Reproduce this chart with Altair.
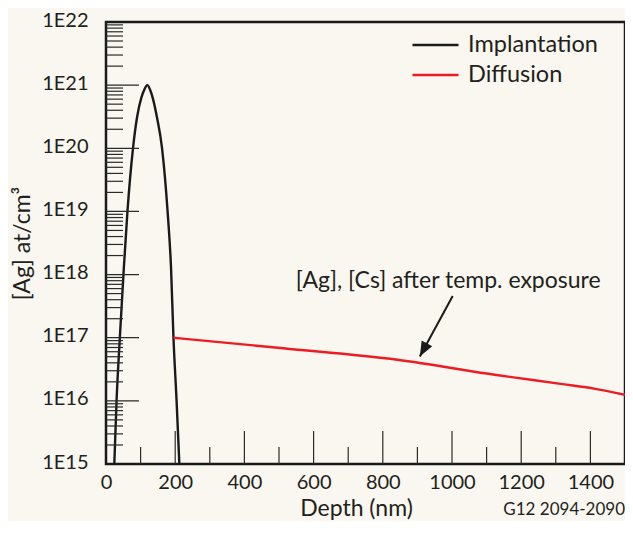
import altair as alt
import pandas as pd

# ---- data ----
impl_depth = [24, 30.5, 40, 51.5, 62, 78, 90, 102, 110, 119.5, 128, 135, 147, 162, 178, 188, 195, 204, 212]
impl_conc = [1.0e15, 1.0e16, 1.0e17, 1.26e18, 1.0e19, 1.0e20, 3.16e20, 6.3e20, 8.3e20, 1.0e21,
             8.3e20, 6.3e20, 3.16e20, 1.0e20, 1.0e19, 1.26e18, 1.0e17, 1.0e16, 1.0e15]
diff_depth = [195, 512, 842, 1128, 1319, 1414, 1500]
diff_conc = [1.0e17, 6.8e16, 4.47e16, 2.57e16, 1.84e16, 1.55e16, 1.25e16]

series_names = ["Implantation", "Diffusion"]
series_colors = ["#1a1a1a", "#ed1c24"]

y_label_values = [1e15, 1e16, 1e17, 1e18, 1e19, 1e20, 1e21, 1e22]
x_label_values = [0, 200, 400, 600, 800, 1000, 1200, 1400]
x_major_ticks = [200, 400, 600, 800, 1000, 1200, 1400]
x_minor_ticks = [100, 300, 500, 700, 900, 1100, 1300]
y_major_ticks = [1e16, 1e17, 1e18, 1e19, 1e20, 1e21]
y_minor_ticks = [k * 10.0 ** n for n in range(15, 22) for k in range(2, 10)]

ann_depth = [989]
ann_conc = [6.04e17]
ann_text = ["[Ag], [Cs] after temp. exposure"]
arrow_start_depth = [1002]
arrow_start_conc = [4.57e17]
arrow_tip_depth = [907]
arrow_tip_conc = [5.04e16]

FONT = "Lato"
TXT = "#231f20"
W, H = 519, 442

df_lines = pd.DataFrame({
    "depth": impl_depth + diff_depth,
    "conc": impl_conc + diff_conc,
    "series": ["Implantation"] * len(impl_depth) + ["Diffusion"] * len(diff_depth),
})

xscale = alt.Scale(domain=[0, 1500], nice=False, zero=False)
yscale = alt.Scale(type="log", domain=[1e15, 1e22], nice=False)

x_axis = alt.Axis(values=x_label_values, format="d", ticks=False, tickSize=0, domain=False, grid=False,
                  labelPadding=8, labelFontSize=20, labelFont=FONT, labelColor=TXT,
                  labelFlush=False, labelOverlap=False,
                  title="Depth (nm)", titleFont=FONT, titleFontSize=23, titleFontWeight="normal",
                  titleColor=TXT, titleX=250, titleY=51, titleAlign="center",
                  titleBaseline="alphabetic")
y_axis = alt.Axis(values=y_label_values, ticks=False, tickSize=0, domain=False, grid=False,
                  labelExpr="'1E' + round(log(datum.value)/LN10)",
                  labelPadding=18, labelFontSize=20, labelFont=FONT, labelColor=TXT,
                  labelFlush=False, labelOverlap=False, labelOffset=-2,
                  title="[Ag] at/cm³", titleFont=FONT, titleFontSize=23, titleFontWeight="normal",
                  titleColor=TXT, titleX=-84, titleY=H / 2, titleAngle=-90, titleAlign="center",
                  titleBaseline="middle")


def X(field):
    return alt.X(field, type="quantitative", scale=xscale, axis=x_axis)


def Y(field):
    return alt.Y(field, type="quantitative", scale=yscale, axis=y_axis)


lines = alt.Chart(df_lines).mark_line(strokeWidth=2.4, interpolate="monotone").encode(
    x=X("depth"),
    y=Y("conc"),
    color=alt.Color("series:N", scale=alt.Scale(domain=series_names, range=series_colors),
                    legend=alt.Legend(title=None, orient="none", legendX=305, legendY=8,
                                      symbolType="stroke", symbolSize=2116, symbolStrokeWidth=2.5,
                                      labelFontSize=23.5, labelFont=FONT, labelColor=TXT,
                                      clipHeight=30, rowPadding=0, labelOffset=8, padding=0)),
)

tick_style = dict(color="#2a2a2a", strokeWidth=1.2)

y_major = alt.Chart(pd.DataFrame({"conc": y_major_ticks})).mark_rule(**tick_style).encode(
    y=Y("conc"), x=alt.value(0), x2=alt.value(33))
y_minor = alt.Chart(pd.DataFrame({"conc": y_minor_ticks})).mark_rule(**tick_style).encode(
    y=Y("conc"), x=alt.value(0), x2=alt.value(17))
x_major = alt.Chart(pd.DataFrame({"depth": x_major_ticks})).mark_rule(**tick_style).encode(
    x=X("depth"), y=alt.value(H), y2=alt.value(H - 33))
x_minor = alt.Chart(pd.DataFrame({"depth": x_minor_ticks})).mark_rule(**tick_style).encode(
    x=X("depth"), y=alt.value(H), y2=alt.value(H - 17))

ann = alt.Chart(pd.DataFrame({"depth": ann_depth, "conc": ann_conc, "t": ann_text})).mark_text(
    font=FONT, fontSize=23, color=TXT, align="center", baseline="alphabetic").encode(
    x=X("depth"), y=Y("conc"), text="t:N")

arrow_df = pd.DataFrame({"depth": arrow_start_depth, "conc": arrow_start_conc,
                         "depth2": arrow_tip_depth, "conc2": arrow_tip_conc})
arrow_line = alt.Chart(arrow_df).mark_rule(color="#1a1a1a", strokeWidth=2).encode(
    x=X("depth"), y=Y("conc"), x2="depth2:Q", y2="conc2:Q")
arrow_head = alt.Chart(arrow_df).mark_point(shape="M0,0L0.4,1L-0.4,1Z", filled=True, size=900,
                                             angle=208.4, color="#1a1a1a", opacity=1).encode(
    x=X("depth2"), y=Y("conc2"))

fig_id = alt.Chart(pd.DataFrame({"t": ["G12 2094-2090"]})).mark_text(
    font=FONT, fontSize=17, color=TXT, align="right", baseline="alphabetic").encode(
    x=alt.value(W), y=alt.value(H + 51), text="t:N")

chart = alt.layer(lines, y_major, y_minor, x_major, x_minor, ann, arrow_line, arrow_head, fig_id).properties(
    width=W, height=H, autosize="none",
    padding={"left": 98, "top": 14, "right": 0, "bottom": 57},
    background="#f9f7ef",
).configure_view(stroke="#1a1a1a", strokeWidth=2.5)

chart.save("out.html", embed_options={"renderer": "svg", "actions": False})
